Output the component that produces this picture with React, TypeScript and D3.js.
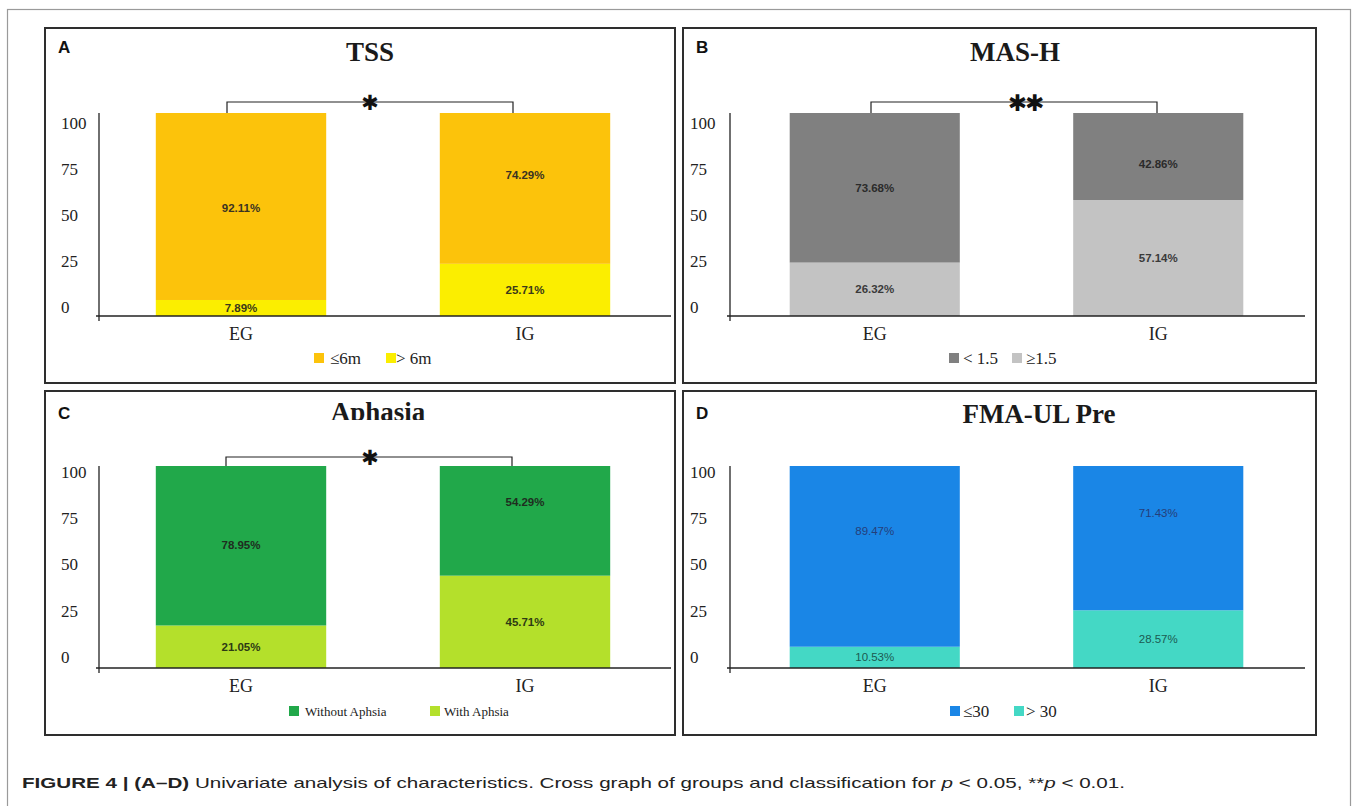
import React from "react";
import * as d3 from "d3";

// ---------- data ----------
const groups = ["EG", "IG"];
const yTicks = [0, 25, 50, 75, 100];

const tssLe6m = [92.11, 74.29];
const tssGt6m = [7.89, 25.71];

const masLt15 = [73.68, 42.86];
const masGe15 = [26.32, 57.14];

const aphWithout = [78.95, 54.29];
const aphWith = [21.05, 45.71];

const fmaLe30 = [89.47, 71.43];
const fmaGt30 = [10.53, 28.57];

const titles = ["TSS", "MAS-H", "Aphasia", "FMA-UL Pre"];
const letters = ["A", "B", "C", "D"];
const legendLabels = [
  ["≤6m", "> 6m"],
  ["< 1.5", "≥1.5"],
  ["Without Aphsia", "With Aphsia"],
  ["≤30", "> 30"],
];
const significance = ["*", "**", "*", ""];

// ---------- layout / style ----------
const serif = "'Liberation Serif', 'Times New Roman', serif";
const sans = "'Liberation Sans', Arial, sans-serif";

type Layout = {
  box: [number, number, number, number];
  letterDy: number;
  axisX: number;
  tickX: number;
  baseRight: number;
  plotRange: [number, number];
  yTop: number;
  yBase: number;
  tickRange: [number, number];
  titleX: number;
  titleY: number;
  catY: number;
  legendY: number;
  legendX: [number, number];
  legendTextDx: [number, number];
  legendFont: number;
  bracketY: number;
  bracketX: [number, number];
  starX: number;
  starSize: number;
  topDy: [number, number];
  colors: [string, string]; // [top(dark), bottom(light)]
  labelColor: [string, string];
  labelWeight: number;
  clipTitle?: boolean;
};

const layouts: Layout[] = [
  {
    box: [45, 28, 675, 383], letterDy: 25, axisX: 99, tickX: 61, baseRight: 671, plotRange: [99, 667],
    yTop: 113, yBase: 316, tickRange: [307, 123], titleX: 370, titleY: 61, catY: 340, legendY: 358,
    legendX: [314, 386], legendTextDx: [16, 10], legendFont: 17, bracketY: 102, bracketX: [227, 513], starX: 369, starSize: 21,
    topDy: [1, -13], colors: ["#FCC30B", "#FBEE00"], labelColor: ["#3a3222", "#3a3a1a"], labelWeight: 700,
  },
  {
    box: [683, 28, 1316, 383], letterDy: 25, axisX: 730, tickX: 690, baseRight: 1305, plotRange: [733, 1300],
    yTop: 113, yBase: 316, tickRange: [307, 123], titleX: 1015, titleY: 61, catY: 340, legendY: 358,
    legendX: [949, 1012], legendTextDx: [14, 14], legendFont: 17, bracketY: 102, bracketX: [871, 1157], starX: 1025, starSize: 23,
    topDy: [0, 7], colors: ["#808080", "#C3C3C3"], labelColor: ["#2b2b2b", "#3a3a3a"], labelWeight: 700,
  },
  {
    box: [45, 391, 675, 735], letterDy: 28, axisX: 99, tickX: 61, baseRight: 671, plotRange: [99, 667],
    yTop: 466, yBase: 668, tickRange: [657, 472], titleX: 378, titleY: 421, catY: 692, legendY: 711,
    legendX: [289, 430], legendTextDx: [16, 14], legendFont: 13, bracketY: 457, bracketX: [226, 512], starX: 369, starSize: 21,
    topDy: [-1, -19], colors: ["#21A84A", "#B4E02B"], labelColor: ["#1f2d1f", "#2d3a14"], labelWeight: 700,
    clipTitle: true,
  },
  {
    box: [683, 391, 1316, 735], letterDy: 28, axisX: 730, tickX: 690, baseRight: 1305, plotRange: [733, 1300],
    yTop: 466, yBase: 668, tickRange: [657, 472], titleX: 1039, titleY: 423, catY: 692, legendY: 711,
    legendX: [950, 1014], legendTextDx: [13, 12], legendFont: 17, bracketY: 0, bracketX: [0, 0], starX: 0, starSize: 21,
    topDy: [-25, -25], colors: ["#1A86E6", "#44D8C5"], labelColor: ["#253e7a", "#1c5a52"], labelWeight: 400,
  },
];

const panelData: [number[], number[]][] = [
  [tssLe6m, tssGt6m],
  [masLt15, masGe15],
  [aphWithout, aphWith],
  [fmaLe30, fmaGt30],
];

function Panel({ idx }: { idx: number }) {
  const L = layouts[idx];
  const [topVals, bottomVals] = panelData[idx];
  const rows = groups.map((g, i) => ({ group: g, bottom: bottomVals[i], top: topVals[i] }));
  const stack = d3.stack<any>().keys(["bottom", "top"]);
  const series = stack(rows);

  const x = d3.scaleBand<string>().domain(groups).range(L.plotRange).paddingInner(0.4).paddingOuter(0.2);
  const y = d3.scaleLinear().domain([0, 100]).range([L.yBase, L.yTop]);
  const yt = d3.scaleLinear().domain([0, 100]).range(L.tickRange);
  const bw = x.bandwidth();
  const [bx0, by0, bx1, by1] = L.box;
  const clipId = `clip-title-${idx}`;
  const sig = significance[idx];

  return (
    <g>
      <rect x={bx0} y={by0} width={bx1 - bx0} height={by1 - by0} fill="#fff" stroke="#2e2e2e" strokeWidth={2} />
      <text x={bx0 + 13} y={by0 + L.letterDy} fontFamily={sans} fontWeight={700} fontSize={17} fill="#111">
        {letters[idx]}
      </text>
      {L.clipTitle && (
        <clipPath id={clipId}>
          <rect x={bx0} y={by0} width={bx1 - bx0} height={L.titleY - 1 - by0} />
        </clipPath>
      )}
      <text
        x={L.titleX}
        y={L.titleY}
        textAnchor="middle"
        fontFamily={serif}
        fontWeight={700}
        fontSize={27}
        fill="#1a1a1a"
        clipPath={L.clipTitle ? `url(#${clipId})` : undefined}
      >
        {titles[idx]}
      </text>

      {/* y tick labels */}
      {yTicks.map((t) => (
        <text key={t} x={L.tickX} y={yt(t)} dy="0.35em" fontFamily={serif} fontSize={17} fill="#222">
          {t}
        </text>
      ))}

      {/* bars */}
      {series.map((s, si) =>
        s.map((d, gi) => (
          <rect
            key={`${si}-${gi}`}
            x={x(groups[gi])!}
            y={y(d[1])}
            width={bw}
            height={y(d[0]) - y(d[1])}
            fill={si === 0 ? L.colors[1] : L.colors[0]}
          />
        ))
      )}

      {/* value labels */}
      {series.map((s, si) =>
        s.map((d, gi) => {
          const v = si === 0 ? bottomVals[gi] : topVals[gi];
          const cy = (y(d[0]) + y(d[1])) / 2 + (si === 1 ? L.topDy[gi] : 0);
          return (
            <text
              key={`l-${si}-${gi}`}
              x={x(groups[gi])! + bw / 2}
              y={cy}
              dy="0.35em"
              textAnchor="middle"
              fontFamily={sans}
              fontWeight={L.labelWeight}
              fontSize={11.5}
              fill={si === 0 ? L.labelColor[1] : L.labelColor[0]}
            >
              {v.toFixed(2)}%
            </text>
          );
        })
      )}

      {/* axes */}
      <line x1={L.axisX} x2={L.axisX} y1={L.yTop} y2={L.yBase + 5} stroke="#222" strokeWidth={1.3} />
      <line x1={L.axisX - 3} x2={L.baseRight} y1={L.yBase} y2={L.yBase} stroke="#222" strokeWidth={1.5} />

      {/* category labels */}
      {groups.map((g) => (
        <text key={g} x={x(g)! + bw / 2} y={L.catY} textAnchor="middle" fontFamily={serif} fontSize={18} fill="#222">
          {g}
        </text>
      ))}

      {/* legend */}
      {legendLabels[idx].map((lab, li) => (
        <g key={lab}>
          <rect x={L.legendX[li]} y={L.legendY - 5} width={10} height={10} fill={L.colors[li]} />
          <text
            x={L.legendX[li] + L.legendTextDx[li]}
            y={L.legendY}
            dy="0.35em"
            fontFamily={serif}
            fontSize={L.legendFont}
            fill="#222"
          >
            {lab}
          </text>
        </g>
      ))}

      {/* significance bracket */}
      {sig && (
        <g>
          <path
            d={`M${L.bracketX[0]},${L.yTop}V${L.bracketY}H${L.bracketX[1]}V${L.yTop}`}
            fill="none"
            stroke="#222"
            strokeWidth={1.2}
          />
          <text
            x={L.starX}
            y={L.bracketY + 1}
            dy="0.35em"
            textAnchor="middle"
            fontFamily="'DejaVu Sans', sans-serif"
            fontSize={L.starSize}
            letterSpacing={-2}
            fill="#111"
          >
            {sig.replace(/\*/g, "✱")}
          </text>
        </g>
      )}
    </g>
  );
}

export default function App() {
  return (
    <svg
      width={1357}
      height={806}
      viewBox="0 0 1357 806"
      style={{ position: "absolute", left: 0, top: 0, background: "#fff" }}
    >
      <rect x={0} y={0} width={1357} height={806} fill="#fff" />
      <rect x={7.5} y={9.5} width={1343} height={810} fill="#fff" stroke="#9a9a9a" strokeWidth={1.2} />
      {layouts.map((_, i) => (
        <Panel key={i} idx={i} />
      ))}
      <text
        x={22}
        y={788}
        fontFamily="'Liberation Sans Narrow', 'Arial Narrow', 'Liberation Sans', sans-serif"
        fontSize={14.5}
        fill="#222"
        textLength={1103}
        lengthAdjust="spacingAndGlyphs"
      >
        <tspan fontWeight={700}>FIGURE 4 | (A–D)</tspan>
        <tspan> Univariate analysis of characteristics. Cross graph of groups and classification for </tspan>
        <tspan fontStyle="italic">p</tspan>
        <tspan> &lt; 0.05, **</tspan>
        <tspan fontStyle="italic">p</tspan>
        <tspan> &lt; 0.01.</tspan>
      </text>
    </svg>
  );
}
